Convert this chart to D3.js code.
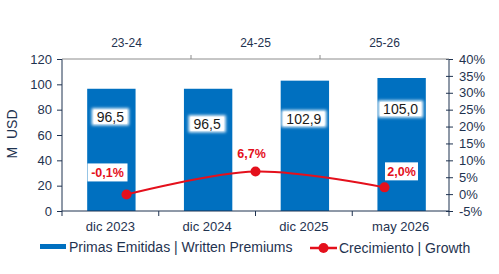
<!DOCTYPE html>
<html>
<head>
<meta charset="utf-8">
<script src="https://cdn.jsdelivr.net/npm/d3@7"></script>
<style>
  body { margin: 0; background: #fff; }
  text { font-family: "Liberation Sans", Arial, sans-serif; }
</style>
</head>
<body>
<div id="chart"></div>
<script>
// data
let periods = ["dic 2023", "dic 2024", "dic 2025", "may 2026"];
let premiums = [96.5, 96.5, 102.9, 105.0];
let growthPeriods = ["23-24", "24-25", "25-26"];
let growth = [-0.1, 6.7, 2.0];
let leftTicks = [0, 20, 40, 60, 80, 100, 120];
let rightTicks = [-5, 0, 5, 10, 15, 20, 25, 30, 35, 40];

// layout
let width = 499, height = 274;
let plot = {left: 62, right: 449, top: 59, bottom: 211};
let navy = "#1f3350";
let blue = "#0070c0";
let red = "#e4101c";
let barLabelDy = [28, 35, 38, 31];
let growthLabelOff = [[-19, -22], [-4, -18], [17, -16]];

let fmt = v => v.toFixed(1).replace(".", ",");

let svg = d3.select("#chart").append("svg")
            .attr("width", width)
            .attr("height", height);

let defs = svg.append("defs");
let glow = defs.append("filter").attr("id", "glow")
               .attr("x", "-30%").attr("y", "-30%").attr("width", "160%").attr("height", "160%");
glow.append("feGaussianBlur").attr("stdDeviation", 1.6);

let x = d3.scaleBand()
          .domain(periods)
          .range([plot.left, plot.right]);

let x2 = d3.scaleBand()
           .domain(growthPeriods)
           .range([plot.left, plot.right]);

let y = d3.scaleLinear()
          .domain([0, 120])
          .range([plot.bottom, plot.top]);

let y2 = d3.scaleLinear()
           .domain([-5, 40])
           .range([plot.bottom, plot.top]);

// bars
let barW = x.bandwidth() * 0.5;
svg.append("g")
   .selectAll("rect")
   .data(premiums)
   .join("rect")
   .attr("x", (d, i) => x(periods[i]) + (x.bandwidth() - barW) / 2 + 1)
   .attr("y", d => y(d))
   .attr("width", barW)
   .attr("height", d => y(0) - y(d))
   .attr("fill", blue);

// bar labels
let bl = svg.append("g")
            .selectAll("g")
            .data(premiums)
            .join("g")
            .attr("transform", (d, i) => "translate(" + (x(periods[i]) + x.bandwidth() / 2) + "," + (y(d) + barLabelDy[i]) + ")");

bl.append("rect")
  .attr("x", d => -(fmt(d).length * 7.8 + 6) / 2)
  .attr("y", -8.5)
  .attr("width", d => fmt(d).length * 7.8 + 6)
  .attr("height", 17)
  .attr("fill", "#fff")
  .attr("filter", "url(#glow)");

bl.append("rect")
  .attr("x", d => -(fmt(d).length * 7.8 + 2) / 2)
  .attr("y", -7)
  .attr("width", d => fmt(d).length * 7.8 + 2)
  .attr("height", 14)
  .attr("fill", "#fff");

bl.append("text")
  .attr("text-anchor", "middle")
  .attr("dy", "0.36em")
  .style("font-size", "14px")
  .attr("fill", "#1a1a1a")
  .text(d => fmt(d));

// left axis
svg.append("g")
   .attr("transform", "translate(" + plot.left + ",0)")
   .call(d3.axisLeft(y).tickValues(leftTicks).tickSize(5).tickPadding(5))
   .call(g => g.selectAll("path,line").attr("stroke", navy))
   .call(g => g.select(".domain").attr("d", "M0," + plot.top + "V" + plot.bottom))
   .call(g => g.selectAll("text").attr("fill", navy).style("font-size", "13px")
               .style("font-family", "'Liberation Sans', Arial, sans-serif"));

// right axis
svg.append("g")
   .attr("transform", "translate(" + plot.right + ",0)")
   .call(d3.axisRight(y2).tickValues(rightTicks).tickSize(4).tickPadding(6).tickFormat(d => d + "%"))
   .call(g => g.selectAll("path,line").attr("stroke", navy))
   .call(g => g.selectAll(".tick line").attr("x1", -3))
   .call(g => g.select(".domain").attr("d", "M0," + plot.top + "V" + plot.bottom))
   .call(g => g.selectAll("text").attr("fill", navy).style("font-size", "13px")
               .style("font-family", "'Liberation Sans', Arial, sans-serif"));

// bottom axis
let bottomAxis = svg.append("g")
                    .attr("transform", "translate(0," + plot.bottom + ")");
bottomAxis.append("line")
      .attr("x1", plot.left).attr("x2", plot.right)
      .attr("stroke", navy);
bottomAxis.selectAll(".tk")
      .data(periods.concat([null]))
      .join("line")
      .attr("x1", (d, i) => i < periods.length ? x(d) : plot.right)
      .attr("x2", (d, i) => i < periods.length ? x(d) : plot.right)
      .attr("y1", 0).attr("y2", 5)
      .attr("stroke", navy);
bottomAxis.selectAll("text")
      .data(periods)
      .join("text")
      .attr("x", d => x(d) + x.bandwidth() / 2)
      .attr("y", 15)
      .attr("dy", "0.36em")
      .attr("text-anchor", "middle")
      .attr("fill", navy)
      .style("font-size", "13px")
      .text(d => d);

// top axis
let topAxis = svg.append("g")
                 .attr("transform", "translate(0," + plot.top + ")");
topAxis.append("line")
   .attr("x1", plot.left).attr("x2", plot.right)
   .attr("stroke", "#8c8c8c");
topAxis.selectAll(".tk")
   .data(growthPeriods.slice(1))
   .join("line")
   .attr("x1", d => x2(d)).attr("x2", d => x2(d))
   .attr("y1", 0).attr("y2", -4)
   .attr("stroke", "#8c8c8c");
topAxis.selectAll("text")
   .data(growthPeriods)
   .join("text")
   .attr("x", d => x2(d) + x2.bandwidth() / 2)
   .attr("y", -16)
   .attr("dy", "0.36em")
   .attr("text-anchor", "middle")
   .attr("fill", navy)
   .style("font-size", "12px")
   .text(d => d);

// y title
svg.append("text")
   .attr("transform", "translate(12," + 134 + ") rotate(-90)")
   .attr("text-anchor", "middle")
   .attr("dy", "0.36em")
   .attr("fill", navy)
   .style("font-size", "14px")
   .style("white-space", "pre")
   .text("M  USD");

// growth line
let line = d3.line()
             .x((d, i) => x2(growthPeriods[i]) + x2.bandwidth() / 2)
             .y(d => y2(d))
             .curve(d3.curveCatmullRom.alpha(0.5));

svg.append("path")
   .datum(growth)
   .attr("d", line)
   .attr("fill", "none")
   .attr("stroke", red)
   .attr("stroke-width", 2);

svg.append("g")
   .selectAll("circle")
   .data(growth)
   .join("circle")
   .attr("cx", (d, i) => x2(growthPeriods[i]) + x2.bandwidth() / 2)
   .attr("cy", d => y2(d))
   .attr("r", 5)
   .attr("fill", red);

// growth labels
let gl = svg.append("g")
            .selectAll("g")
            .data(growth)
            .join("g")
            .attr("transform", (d, i) => "translate(" + (x2(growthPeriods[i]) + x2.bandwidth() / 2 + growthLabelOff[i][0]) +
                                         "," + (y2(d) + growthLabelOff[i][1]) + ")");
gl.append("rect")
  .attr("x", d => -(fmt(d).length * 7 + 12) / 2)
  .attr("y", -9)
  .attr("width", d => fmt(d).length * 7 + 12)
  .attr("height", 18)
  .attr("fill", "#fff");
gl.append("text")
  .attr("text-anchor", "middle")
  .attr("dy", "0.36em")
  .attr("fill", red)
  .style("font-size", "12.5px")
  .style("font-weight", "bold")
  .text(d => fmt(d) + "%");

// legend
let legend = svg.append("g");
legend.append("rect")
      .attr("x", 40).attr("y", 244)
      .attr("width", 26).attr("height", 5)
      .attr("fill", blue);
legend.append("text")
      .attr("x", 69).attr("y", 247)
      .attr("dy", "0.36em")
      .attr("fill", navy)
      .style("font-size", "14px")
      .text("Primas Emitidas | Written Premiums");
legend.append("line")
      .attr("x1", 310).attr("x2", 337)
      .attr("y1", 248).attr("y2", 248)
      .attr("stroke", red).attr("stroke-width", 2.5);
legend.append("circle")
      .attr("cx", 323.5).attr("cy", 248).attr("r", 5)
      .attr("fill", red);
legend.append("text")
      .attr("x", 339).attr("y", 248)
      .attr("dy", "0.36em")
      .attr("fill", navy)
      .style("font-size", "14px")
      .text("Crecimiento | Growth");
</script>
</body>
</html>
